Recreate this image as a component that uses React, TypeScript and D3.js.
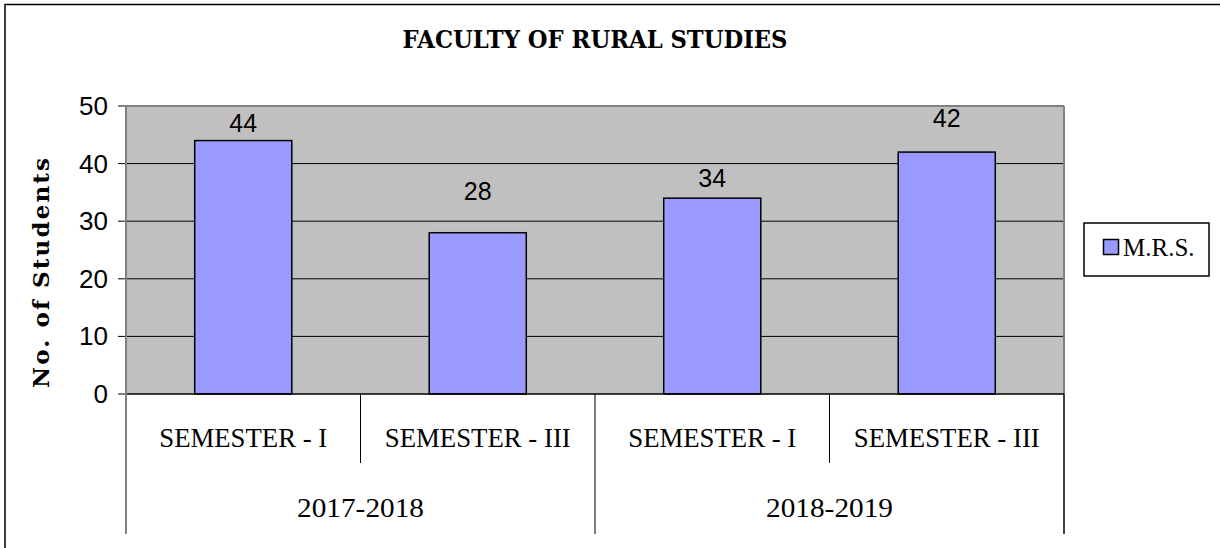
import React from "react";
import * as d3 from "d3";

const semesters = ["SEMESTER - I", "SEMESTER - III", "SEMESTER - I", "SEMESTER - III"];
const years = ["2017-2018", "2018-2019"];
const students = [44, 28, 34, 42];
const yTicks = [0, 10, 20, 30, 40, 50];
const seriesName = "M.R.S.";
const title = "FACULTY OF RURAL STUDIES";
const yTitle = "No. of Students";

const W = 1220;
const H = 548;
const plot = { left: 126, right: 1064, top: 106, bottom: 394 };
// excel put the data labels at uneven heights above the bars
const labelGap = [18, 42, 20, 34];

export default function App() {
  const x = d3
    .scaleBand<number>()
    .domain(students.map((_, i) => i))
    .range([plot.left, plot.right]);
  const y = d3.scaleLinear().domain([0, 50]).range([plot.bottom, plot.top]);
  const yearX = d3
    .scaleBand<number>()
    .domain(years.map((_, i) => i))
    .range([plot.left, plot.right]);
  const barW = x.bandwidth() * 0.414;

  return (
    <svg
      width={W}
      height={H}
      style={{ position: "absolute", left: 0, top: 0, background: "#fff" }}
    >
      <rect x={5} y={4.5} width={W} height={H} fill="#fff" stroke="#000" strokeWidth={1.5} />

      <text
        x={595}
        y={48}
        textAnchor="middle"
        fontFamily="DejaVu Serif"
        fontWeight="bold"
        fontSize={24}
        textLength={385}
        lengthAdjust="spacingAndGlyphs"
      >
        {title}
      </text>

      <rect
        x={plot.left}
        y={plot.top}
        width={plot.right - plot.left}
        height={plot.bottom - plot.top}
        fill="#c0c0c0"
      />
      {yTicks
        .filter((t) => t > 0 && t < 50)
        .map((t) => (
          <line key={t} x1={plot.left} x2={plot.right} y1={y(t)} y2={y(t)} stroke="#000" strokeWidth={1} />
        ))}
      <line x1={plot.left} x2={plot.right} y1={y(50)} y2={y(50)} stroke="#808080" strokeWidth={2} />
      <line x1={plot.right} x2={plot.right} y1={plot.top} y2={plot.bottom} stroke="#808080" strokeWidth={2} />

      {students.map((v, i) => {
        const cx = x(i)! + x.bandwidth() / 2;
        return (
          <g key={i}>
            <rect
              x={cx - barW / 2}
              y={y(v)}
              width={barW}
              height={y(0) - y(v)}
              fill="#9999ff"
              stroke="#000"
              strokeWidth={1.5}
            />
            <text
              x={cx}
              y={y(v) - labelGap[i]}
              textAnchor="middle"
              dominantBaseline="central"
              fontFamily="Liberation Sans"
              fontSize={25}
            >
              {v}
            </text>
          </g>
        );
      })}

      {yTicks.map((t) => (
        <g key={t}>
          <line x1={118} x2={plot.left} y1={y(t)} y2={y(t)} stroke="#000" strokeWidth={1} />
          <text
            x={108}
            y={y(t)}
            textAnchor="end"
            dominantBaseline="central"
            fontFamily="Liberation Sans"
            fontSize={26}
          >
            {t}
          </text>
        </g>
      ))}

      <line x1={plot.left} x2={plot.right} y1={plot.bottom} y2={plot.bottom} stroke="#000" strokeWidth={1.5} />
      <line x1={plot.left} x2={plot.left} y1={plot.top} y2={534} stroke="#808080" strokeWidth={2} />
      <line x1={plot.right} x2={plot.right} y1={plot.bottom} y2={534} stroke="#000" strokeWidth={1.5} />
      <line x1={yearX(1)!} x2={yearX(1)!} y1={plot.bottom} y2={534} stroke="#000" strokeWidth={1} />
      {[1, 3].map((i) => (
        <line key={i} x1={x(i)!} x2={x(i)!} y1={plot.bottom} y2={463} stroke="#000" strokeWidth={1} />
      ))}

      {semesters.map((s, i) => (
        <text
          key={i}
          x={x(i)! + x.bandwidth() / 2}
          y={438}
          textAnchor="middle"
          dominantBaseline="central"
          fontFamily="Liberation Serif"
          fontSize={27}
          textLength={s.length > 12 ? 186 : 168}
          lengthAdjust="spacingAndGlyphs"
        >
          {s}
        </text>
      ))}
      {years.map((s, i) => (
        <text
          key={i}
          x={yearX(i)! + yearX.bandwidth() / 2}
          y={507}
          textAnchor="middle"
          dominantBaseline="central"
          fontFamily="Liberation Serif"
          fontSize={28}
          textLength={127}
          lengthAdjust="spacingAndGlyphs"
        >
          {s}
        </text>
      ))}

      <text
        transform={`translate(49,273) rotate(-90)`}
        textAnchor="middle"
        fontFamily="DejaVu Serif"
        fontWeight="bold"
        fontSize={23}
        textLength={230}
        lengthAdjust="spacing"
      >
        {yTitle}
      </text>

      <rect x={1084} y={223} width={125} height={53} fill="#fff" stroke="#000" strokeWidth={1.5} />
      <rect x={1103.5} y={239.5} width={15} height={15} fill="#9999ff" stroke="#000" strokeWidth={1.5} />
      <text x={1123} y={256} fontFamily="Liberation Serif" fontSize={25}>
        {seriesName}
      </text>
    </svg>
  );
}
